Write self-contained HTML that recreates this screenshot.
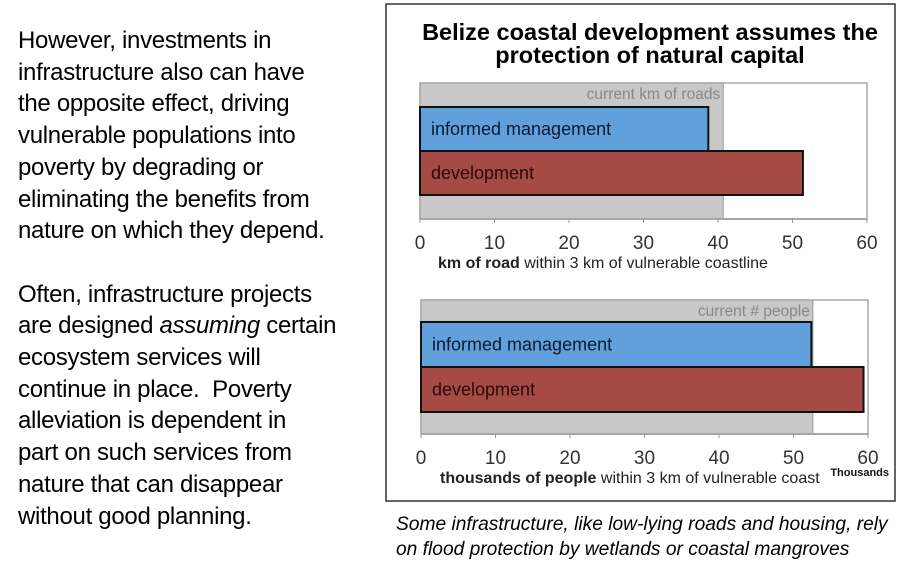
<!DOCTYPE html>
<html><head><meta charset="utf-8"><style>
body{margin:0;width:919px;height:568px;background:#fff;overflow:hidden;position:relative;font-family:"Liberation Sans",sans-serif}
#left{position:absolute;left:18px;top:25px;font-size:24px;line-height:31.7px;color:#000;letter-spacing:-0.3px}
#left p{margin:0 0 31.7px 0}
#cap{position:absolute;left:396px;top:512px;font-style:italic;font-size:19.2px;line-height:25px;color:#000}
svg{position:absolute;left:0;top:0}
</style></head><body>
<div id="left">
<p>However, investments in<br>infrastructure also can have<br>the opposite effect, driving<br>vulnerable populations into<br>poverty by degrading or<br>eliminating the benefits from<br>nature on which they depend.</p>
<p>Often, infrastructure projects<br>are designed <i>assuming</i> certain<br>ecosystem services will<br>continue in place.&nbsp; Poverty<br>alleviation is dependent in<br>part on such services from<br>nature that can disappear<br>without good planning.</p>
</div>
<div id="cap">Some infrastructure, like low-lying roads and housing, rely<br>on flood protection by wetlands or coastal mangroves</div>
<svg id="svg" width="919" height="568">
<rect x="386" y="4" width="509" height="497" fill="none" stroke="#333" stroke-width="1.5"/>
<text x="650" y="40" text-anchor="middle" font-size="23.5" font-weight="bold">Belize coastal development assumes the</text>
<text x="650" y="63" text-anchor="middle" font-size="23.5" font-weight="bold">protection of natural capital</text>
</svg>
<script>
const ticks=[0,10,20,30,40,50,60];
const series=["informed management","development"];
const roadsValues=[38.7,51.4];
const roadsCurrent=[40.7];
const peopleValues=[52.4,59.4];
const peopleCurrent=[52.6];
const NS="http://www.w3.org/2000/svg";
const svg=document.getElementById('svg');
function mk(t,a,txt){const e=document.createElementNS(NS,t);for(const k in a)e.setAttribute(k,a[k]);if(txt!==undefined)e.textContent=txt;svg.appendChild(e);return e;}
function panel(p){
  const x=v=>p.x0+(p.x1-p.x0)*v/60;
  let e=mk('rect',{x:p.x0,y:p.top,width:p.x1-p.x0,height:p.bot-p.top,fill:'#fff',stroke:'#aaa','stroke-width':1.5});
  
  
  e=mk('rect',{x:p.x0,y:p.top,width:x(p.cur[0])-p.x0,height:p.bot-p.top,fill:'#c8c8c8',stroke:'#999','stroke-width':1});
  
  
  e=mk('text',{x:x(p.cur[0])-3,y:p.top+16,'text-anchor':'end','font-size':15.5,fill:'#888'},p.curLabel);
  
  
  const cols=['#62a0dc','#a54a44'];
  p.vals.forEach((v,i)=>{
    const y=p.barTop+i*p.barH;
    let r=mk('rect',{x:p.x0,y:y,width:x(v)-p.x0,height:p.barH,fill:cols[i],stroke:'#111','stroke-width':2});
    
    
    let t=mk('text',{x:p.x0+11,y:y+p.barH/2+6,'font-size':18,fill:i?'#2a0a08':'#0a1a30'},series[i]);
    
    
  });
  mk('line',{x1:p.x0,x2:p.x1,y1:p.bot,y2:p.bot,stroke:'#999','stroke-width':1.5});
  ticks.forEach(v=>{
    mk('line',{x1:x(v),x2:x(v),y1:p.bot,y2:p.bot+4,stroke:'#999'});
    let t=mk('text',{x:x(v),y:p.bot+30,'text-anchor':'middle','font-size':19,fill:'#333'},v);
    
    
  });
  let t=mk('text',{x:p.titleX,y:p.bot+49,'font-size':16,fill:'#222'});
  
  
  t.innerHTML='<tspan font-weight="bold">'+p.b+'</tspan>'+p.rest;
}
panel({id:'roads',x0:420,x1:867,top:83,bot:219,barTop:107,barH:44,vals:roadsValues,cur:roadsCurrent,curLabel:'current km of roads',titleX:438,b:'km of road',rest:' within 3 km of vulnerable coastline'});
panel({id:'people',x0:421,x1:868,top:300,bot:434,barTop:322,barH:45,vals:peopleValues,cur:peopleCurrent,curLabel:'current # people',titleX:440,b:'thousands of people',rest:' within 3 km of vulnerable coast'});
const th=mk('text',{x:889,y:476,'text-anchor':'end','font-size':11,'font-weight':'bold',fill:'#111'},'Thousands');


</script>
</body></html>
